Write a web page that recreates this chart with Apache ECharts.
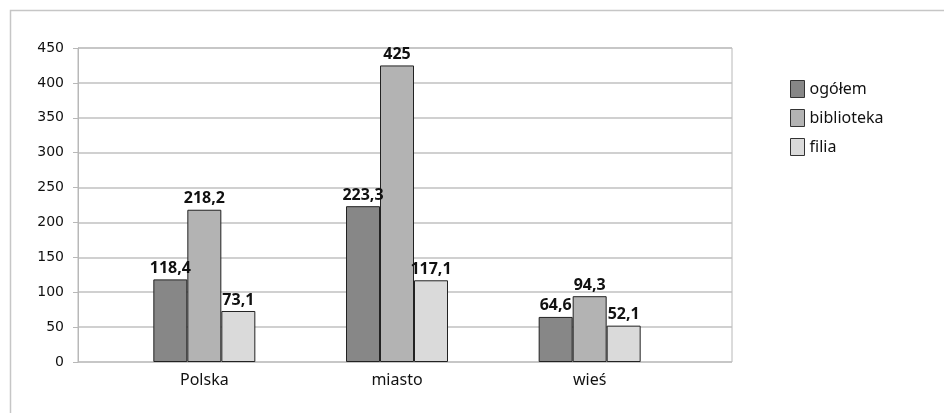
<!DOCTYPE html>
<html>
<head>
<meta charset="utf-8">
<script src="https://cdn.jsdelivr.net/npm/echarts@6/dist/echarts.min.js"></script>
<style>
html,body{margin:0;padding:0;background:#fff;}
#c{width:944px;height:413px;}
</style>
</head>
<body>
<div id="c"></div>
<script>
const categories = ['Polska', 'miasto', 'wieś'];
const seriesNames = ['ogółem', 'biblioteka', 'filia'];
const ogolem = [118.4, 223.3, 64.6];
const biblioteka = [218.2, 425, 94.3];
const filia = [73.1, 117.1, 52.1];
const yTicks = [0, 50, 100, 150, 200, 250, 300, 350, 400, 450];

const colors = ['#878787', '#b3b3b3', '#dadada'];
const values = [ogolem, biblioteka, filia];
const FONT = 'Noto Sans';

const chart = echarts.init(document.getElementById('c'));
const option = {
  backgroundColor: '#fff',
  animation: false,
  graphic: [{
    type: 'rect', silent: true, z: -10,
    shape: { x: 10.5, y: 10.5, width: 1000, height: 1000 },
    style: { fill: 'none', stroke: '#c6c6c6', lineWidth: 1.5 }
  }],
  grid: [
    { left: 78, top: 48, width: 654, height: 314, show: true, borderColor: '#b8b8b8', borderWidth: 1, backgroundColor: 'transparent' },
    { left: 108, top: 48, width: 578, height: 314 }
  ],
  legend: {
    orient: 'vertical', left: 785, top: 75,
    itemWidth: 14, itemHeight: 17, itemGap: 11,
    icon: 'rect',
    data: seriesNames,
    textStyle: { fontFamily: FONT, fontSize: 16, color: '#111' },
    itemStyle: { borderColor: '#333', borderWidth: 1 }
  },
  xAxis: [
    { gridIndex: 0, type: 'category', data: categories, axisLine: { show: false }, axisTick: { show: false }, axisLabel: { show: false } },
    { gridIndex: 1, type: 'category', data: categories, axisLine: { show: false }, axisTick: { show: false },
      axisLabel: { fontFamily: FONT, fontSize: 16, color: '#111', margin: 10 } }
  ],
  yAxis: [
    { gridIndex: 0, type: 'value', min: 0, max: yTicks[yTicks.length - 1], interval: yTicks[1] - yTicks[0],
      axisLine: { show: true, lineStyle: { color: '#b8b8b8' } },
      axisTick: { show: true, length: 5, lineStyle: { color: '#b8b8b8' } },
      axisLabel: { fontFamily: 'DejaVu Sans', fontSize: 14, color: '#111', margin: 14 },
      splitLine: { show: true, lineStyle: { color: '#c0c0c0', width: 1.5 } } },
    { gridIndex: 1, type: 'value', min: 0, max: yTicks[yTicks.length - 1], show: false, splitLine: { show: false } }
  ],
  series: seriesNames.map((n, i) => ({
    name: n, type: 'bar', xAxisIndex: 1, yAxisIndex: 1,
    data: values[i], barWidth: 34, barGap: '0%',
    itemStyle: { color: colors[i], borderColor: '#222', borderWidth: 1 },
    label: { show: true, position: 'top', distance: 3, fontFamily: FONT, fontWeight: 'bold', fontSize: 16, color: '#111',
      formatter: p => String(p.value).replace('.', ',') }
  }))
};
chart.setOption(option);
</script>
</body>
</html>
